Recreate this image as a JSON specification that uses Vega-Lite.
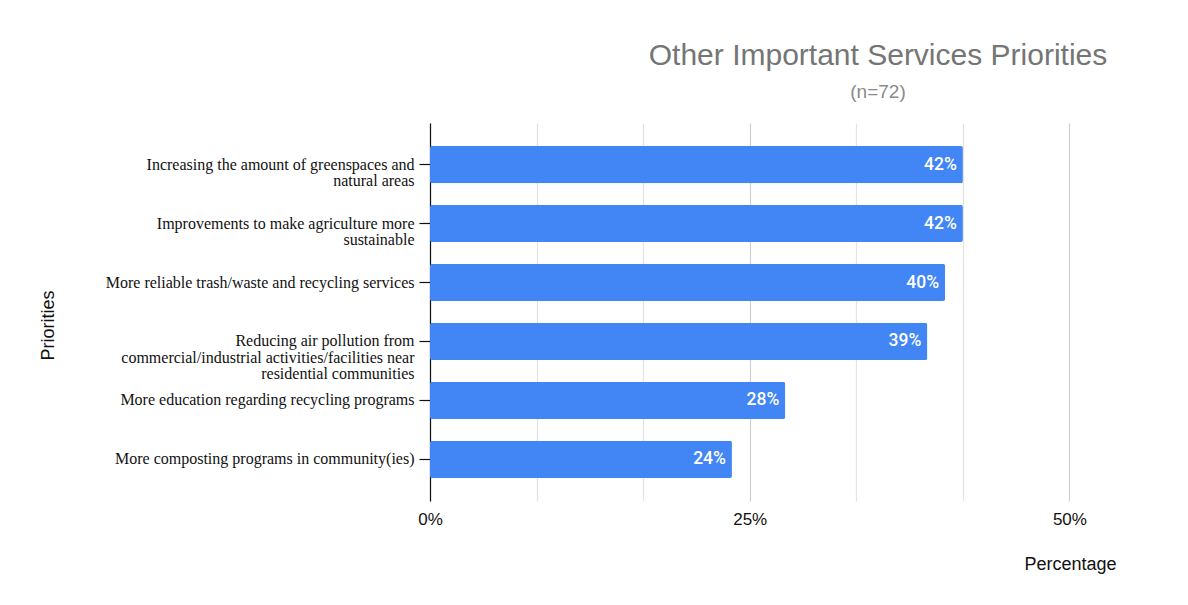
{
  "$schema": "https://vega.github.io/schema/vega-lite/v6.json",
  "autosize": {"type": "none"},
  "width": 746,
  "height": 378,
  "padding": {"left": 430, "top": 123, "right": 12, "bottom": 104},
  "background": "white",
  "title": {
    "text": "Other Important Services Priorities",
    "subtitle": "(n=72)",
    "anchor": "middle",
    "dx": 75,
    "offset": 21,
    "font": "Liberation Sans",
    "fontSize": 30,
    "fontWeight": "normal",
    "color": "#757575",
    "subtitleFont": "Liberation Sans",
    "subtitleFontSize": 19,
    "subtitleColor": "#8a8a8a",
    "subtitlePadding": 12
  },
  "data": {
    "values": [
      {"priority": "Increasing the amount of greenspaces and natural areas", "share": 0.4167},
      {"priority": "Improvements to make agriculture more sustainable", "share": 0.4167},
      {"priority": "More reliable trash/waste and recycling services", "share": 0.4028},
      {"priority": "Reducing air pollution from commercial/industrial activities/facilities near residential communities", "share": 0.3889},
      {"priority": "More education regarding recycling programs", "share": 0.2778},
      {"priority": "More composting programs in community(ies)", "share": 0.2361}
    ]
  },
  "encoding": {
    "y": {
      "field": "priority",
      "type": "nominal",
      "sort": null,
      "scale": {"paddingInner": 0.37, "paddingOuter": 0.39},
      "axis": {
        "title": "Priorities",
        "titleFont": "Liberation Sans",
        "titleFontSize": 18,
        "titleFontWeight": "normal",
        "titleColor": "#111",
        "titleX": -382,
        "titleY": 202,
        "titleAngle": -90,
        "titleAlign": "center",
        "titleBaseline": "middle",
        "labelFont": "Liberation Serif",
        "labelFontSize": 16,
        "labelColor": "#111",
        "labelLineHeight": 16.5,
        "labelLimit": 400,
        "labelPadding": 5,
        "tickSize": 11,
        "tickColor": "#111",
        "tickWidth": 1.2,
        "domainColor": "#111",
        "domainWidth": 1.2,
        "labelExpr": "datum.label == 'Increasing the amount of greenspaces and natural areas' ? ['Increasing the amount of greenspaces and', 'natural areas'] : datum.label == 'Improvements to make agriculture more sustainable' ? ['Improvements to make agriculture more', 'sustainable'] : datum.label == 'Reducing air pollution from commercial/industrial activities/facilities near residential communities' ? ['Reducing air pollution from', 'commercial/industrial activities/facilities near', 'residential communities'] : datum.label"
      }
    },
    "x": {
      "field": "share",
      "type": "quantitative",
      "scale": {"domain": [0, 0.58333], "nice": false},
      "axis": {
        "title": "Percentage",
        "titleFont": "Liberation Sans",
        "titleFontSize": 18,
        "titleFontWeight": "normal",
        "titleColor": "#111",
        "titleX": 640,
        "titleY": 63,
        "titleAlign": "center",
        "titleBaseline": "middle",
        "values": [0, 0.083333, 0.166667, 0.25, 0.333333, 0.416667, 0.5, 0.583333],
        "labelExpr": "abs(round(datum.value * 4) - datum.value * 4) < 0.001 ? format(datum.value, '.0%') : ''",
        "labelFont": "Liberation Sans",
        "labelFontSize": 17,
        "labelColor": "#111",
        "labelPadding": 10,
        "labelFlush": false,
        "labelOverlap": false,
        "ticks": false,
        "domain": false,
        "grid": true,
        "gridColor": {"condition": {"test": "abs(round(datum.value * 4) - datum.value * 4) < 0.001", "value": "#cfcfcf"}, "value": "#e3e3e3"},
        "gridWidth": 1.2
      }
    }
  },
  "layer": [
    {
      "mark": {"type": "bar", "color": "#4285f4", "cornerRadius": 2}
    },
    {
      "mark": {"type": "text", "align": "right", "baseline": "middle", "dx": -6, "color": "white", "font": "Roboto", "fontSize": 17.5, "fontWeight": 500},
      "encoding": {
        "text": {"field": "share", "type": "quantitative", "format": ".0%"}
      }
    }
  ],
  "config": {
    "view": {"stroke": null}
  }
}
